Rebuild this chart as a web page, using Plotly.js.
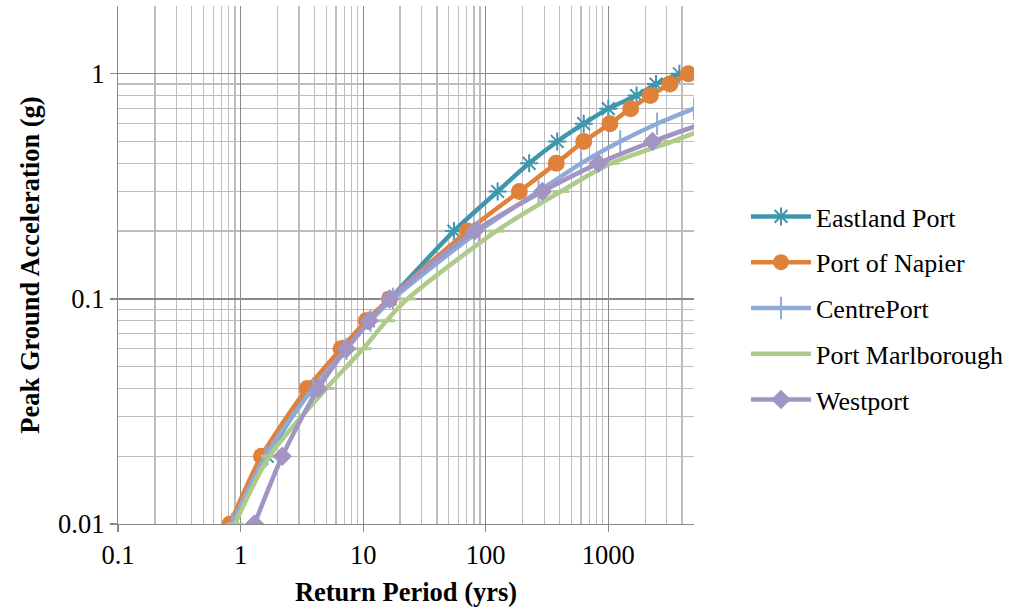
<!DOCTYPE html>
<html>
<head>
<meta charset="utf-8">
<script src="https://cdn.plot.ly/plotly-3.0.1.min.js"></script>
<style>html,body{margin:0;padding:0;background:#fff;}#chart{width:1011px;height:607px;}</style>
</head>
<body>
<div id="chart"></div>
<script>
// Return periods (yrs) and PGA (g) read for each port
const eastlandRP = [0.85, 1.65, 3.8, 6.8, 11, 16.5, 55, 125, 226, 383, 630, 1000, 1700, 2450, 3800];
const eastlandPGA = [0.01, 0.02, 0.04, 0.06, 0.08, 0.1, 0.2, 0.3, 0.4, 0.5, 0.6, 0.7, 0.8, 0.9, 1.0];

const napierRP = [0.82, 1.48, 3.5, 6.6, 10.6, 16.4, 71, 188, 376, 630, 1030, 1520, 2200, 3180, 4500];
const napierPGA = [0.01, 0.02, 0.04, 0.06, 0.08, 0.1, 0.2, 0.3, 0.4, 0.5, 0.6, 0.7, 0.8, 0.9, 1.0];

const centreRP = [0.85, 1.6, 3.9, 7.3, 11.5, 17.5, 88, 270, 600, 1250, 2500, 5000];
const centrePGA = [0.01, 0.02, 0.04, 0.06, 0.08, 0.1, 0.2, 0.3, 0.4, 0.5, 0.6, 0.7];

const marlRP = [0.9, 1.72, 5.0, 10.0, 15.5, 23, 122, 410, 1050, 3300, 8000];
const marlPGA = [0.01, 0.02, 0.04, 0.06, 0.08, 0.1, 0.2, 0.3, 0.4, 0.5, 0.6];

const westRP = [1.3, 2.19, 4.3, 7.3, 11.2, 16.4, 81, 290, 830, 2290, 5900];
const westPGA = [0.01, 0.02, 0.04, 0.06, 0.08, 0.1, 0.2, 0.3, 0.4, 0.5, 0.6];

const xTickVals = [0.1, 1, 10, 100, 1000];
const xTickText = ['0.1', '1', '10', '100', '1000'];
const yTickVals = [0.01, 0.1, 1];
const yTickText = ['0.01', '0.1', '1'];

const seriesNames = ['Eastland Port', 'Port of Napier', 'CentrePort', 'Port Marlborough', 'Westport'];
const colors = ['#3f97ae', '#e0813a', '#90aad8', '#aecb8b', '#a294c3'];

function tr(i, x, y, marker) {
  return {
    type: 'scatter', mode: 'lines+markers', name: seriesNames[i],
    x: x, y: y, legendgroup: 'g' + i,
    line: {color: colors[i], width: 4.5, shape: 'spline', smoothing: 0.8},
    marker: Object.assign({color: colors[i]}, marker)
  };
}

const data = [
  tr(0, eastlandRP, eastlandPGA, {symbol: 'asterisk-open', size: 15, line: {color: colors[0], width: 2}}),
  tr(1, napierRP, napierPGA, {symbol: 'circle', size: 17, line: {width: 0}}),
  tr(2, centreRP, centrePGA, {symbol: 'line-ns-open', size: 16, line: {color: colors[2], width: 2}}),
  tr(3, marlRP, marlPGA, {symbol: 'line-ew-open', size: 12, line: {color: colors[3], width: 3}}),
  tr(4, westRP, westPGA, {symbol: 'diamond', size: 15, line: {width: 0}})
];

const font = {family: '"Liberation Serif", "Times New Roman", serif', color: '#000'};

const layout = {
  width: 1011, height: 607,
  margin: {l: 118, r: 317, t: 6, b: 83, pad: 0, autoexpand: false},
  paper_bgcolor: '#fff', plot_bgcolor: '#fff',
  font: Object.assign({size: 27}, font),
  showlegend: true,
  legend: {
    x: 1.0903, xanchor: 'left', y: 0.416, yanchor: 'middle',
    font: Object.assign({size: 26}, font),
    itemwidth: 60,
    tracegroupgap: 9, bgcolor: 'rgba(0,0,0,0)'
  },
  xaxis: {
    type: 'log', range: [-1, Math.log10(5000)],
    tickmode: 'array', tickvals: xTickVals, ticktext: xTickText,
    ticks: 'outside', ticklen: 7, tickwidth: 1.3, tickcolor: '#888',
    showline: true, linecolor: '#888', linewidth: 1.3,
    showgrid: true, gridcolor: '#8a8a8a', gridwidth: 1.3,
    minor: {dtick: 'D1', showgrid: true, gridcolor: '#bdbdbd', gridwidth: 1.3, ticks: ''},
    zeroline: false, automargin: false,
    tickfont: Object.assign({size: 26.5}, font),
    title: {text: '<b>Return Period (yrs)</b>', font: Object.assign({size: 26.5}, font), standoff: 21}
  },
  yaxis: {
    type: 'log', range: [-2, Math.log10(2)],
    tickmode: 'array', tickvals: yTickVals, ticktext: yTickText,
    ticks: 'outside', ticklen: 7, tickwidth: 1.3, tickcolor: '#888',
    showline: true, linecolor: '#888', linewidth: 1.3,
    showgrid: true, gridcolor: '#8a8a8a', gridwidth: 1.3,
    minor: {dtick: 'D1', showgrid: true, gridcolor: '#bdbdbd', gridwidth: 1.3, ticks: ''},
    zeroline: false, automargin: false,
    tickfont: Object.assign({size: 26.5}, font),
    title: {text: '<b>Peak Ground Acceleration (g)</b>', font: Object.assign({size: 26.5}, font), standoff: 10}
  }
};

Plotly.newPlot('chart', data, layout, {displayModeBar: false, staticPlot: true});
</script>
</body>
</html>
